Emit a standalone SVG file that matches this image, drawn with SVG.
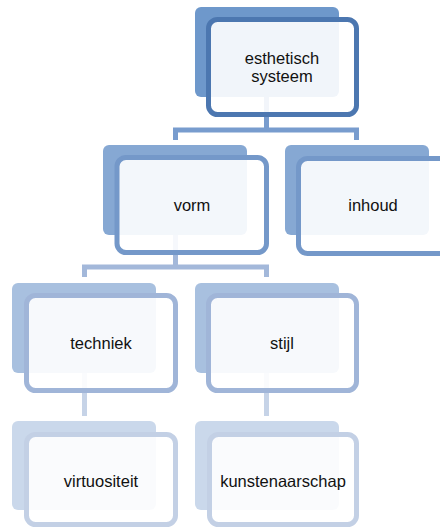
<svg xmlns="http://www.w3.org/2000/svg" width="440" height="528" viewBox="0 0 440 528">
<style>
  text { font-family: "Liberation Sans", Arial, sans-serif; font-size: 16.5px; fill: #111111; text-anchor: middle; }
  .conn { fill: none; stroke-width: 5; stroke-linejoin: miter; }
  .front { fill: #ffffff; fill-opacity: 0.9; stroke-width: 5; }
  .l0 .back { fill: #6e98cb; } .l0 .front { stroke: #4c77b0; }
  .l1 .back { fill: #86a8d3; } .l1 .front { stroke: #7498c9; }
  .l2 .back { fill: #a8c0df; } .l2 .front { stroke: #a0b5d8; }
  .l3 .back { fill: #cad8eb; } .l3 .front { stroke: #c3d0e5; }
</style>
<rect width="440" height="528" fill="#ffffff"/>
<g id="connectors">
  <path class="conn" stroke="#789cce" d="M266.5,97 V130 M175.5,140 V130 H356.5 V140"/>
  <path class="conn" stroke="#a3b8da" d="M175.5,235 V267 M84.5,277 V267 H266.5 V277"/>
  <path class="conn" stroke="#c6d3e7" d="M84.5,373 V416"/>
  <path class="conn" stroke="#c6d3e7" d="M266.5,373 V416"/>
</g>
<g id="node-esthetisch-systeem" class="l0">
  <rect class="back" x="195" y="7" width="144" height="90" rx="6"/>
  <rect class="front" x="208.5" y="19.5" width="148" height="95" rx="9"/>
  <text x="282" y="64">esthetisch</text>
  <text x="282" y="82">systeem</text>
</g>
<g id="node-vorm" class="l1">
  <rect class="back" x="103" y="145" width="144" height="90" rx="6"/>
  <rect class="front" x="117" y="157.5" width="149.5" height="95" rx="9"/>
  <text x="192" y="211">vorm</text>
</g>
<g id="node-inhoud" class="l1">
  <rect class="back" x="285" y="145" width="144" height="90" rx="6"/>
  <rect class="front" x="298.5" y="158.5" width="150" height="95" rx="9"/>
  <text x="373" y="211">inhoud</text>
</g>
<g id="node-techniek" class="l2">
  <rect class="back" x="12" y="283" width="144" height="90" rx="6"/>
  <rect class="front" x="26.5" y="295.5" width="149" height="95" rx="9"/>
  <text x="101" y="349">techniek</text>
</g>
<g id="node-stijl" class="l2">
  <rect class="back" x="195" y="283" width="144" height="90" rx="6"/>
  <rect class="front" x="208.5" y="295.5" width="148" height="95" rx="9"/>
  <text x="282" y="349">stijl</text>
</g>
<g id="node-virtuositeit" class="l3">
  <rect class="back" x="12" y="421" width="144" height="89" rx="6"/>
  <rect class="front" x="26.5" y="434.5" width="149" height="90" rx="9"/>
  <text x="101" y="487">virtuositeit</text>
</g>
<g id="node-kunstenaarschap" class="l3">
  <rect class="back" x="195" y="421" width="144" height="89" rx="6"/>
  <rect class="front" x="209.5" y="434.5" width="147" height="90" rx="9"/>
  <text x="283" y="487">kunstenaarschap</text>
</g>
</svg>
